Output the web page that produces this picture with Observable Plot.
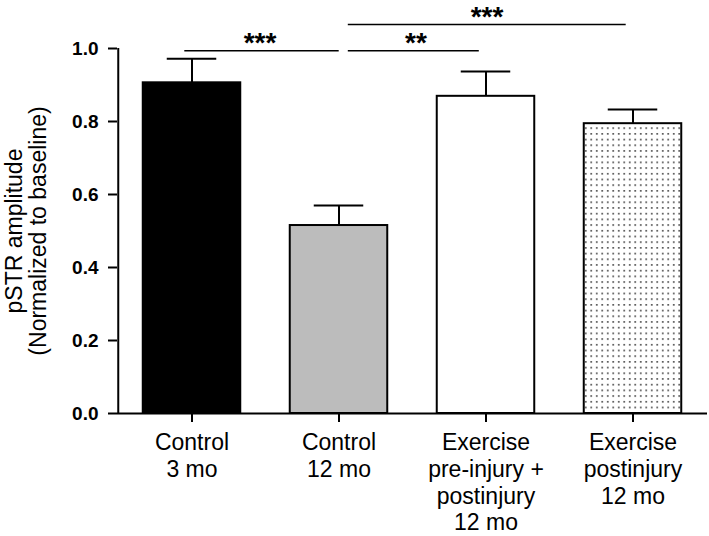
<!DOCTYPE html>
<html>
<head>
<meta charset="utf-8">
<script src="https://cdn.jsdelivr.net/npm/d3@7"></script>
<script src="https://cdn.jsdelivr.net/npm/@observablehq/plot@0.6"></script>
<style>
  html, body { margin: 0; padding: 0; background: white; }
  #chart svg { display: block; }
</style>
</head>
<body>
<div id="chart"></div>
<script>
// ---- data ----
const categories = [
  "Control\n3 mo",
  "Control\n12 mo",
  "Exercise\npre-injury +\npostinjury\n12 mo",
  "Exercise\npostinjury\n12 mo"
];
const means = [0.906, 0.515, 0.869, 0.794];
const sems = [0.066, 0.055, 0.068, 0.039];
const fills = ["black", "#bcbcbc", "white", "url(#dots)"];
const yTicks = [0, 0.2, 0.4, 0.6, 0.8, 1.0];
const yLabel = "pSTR amplitude\n(Normalized to baseline)";

// significance brackets
const sigFrom = [0, 1, 1];
const sigTo = [1, 2, 3];
const sigLevel = [0.994, 0.994, 1.066];
const sigText = ["***", "**", "***"];
const sigTextY = [0.990, 0.990, 1.0616];

const rows = categories.map((c, i) => ({cat: c, mean: means[i], sem: sems[i], fill: fills[i]}));

const W = 709, H = 536;
const mL = 117, mR = 2, mT = 48, mB = 123;
const step = (W - mL - mR) / categories.length;
const barInset = (step - 98) / 2;
const capInset = (step - 50) / 2;

const sigRow = (k) => [{x1: categories[sigFrom[k]], x2: categories[sigTo[k]], y: sigLevel[k]}];
const starRow = (k) => [{x: categories[sigTo[k]], y: sigTextY[k], t: sigText[k]}];
const fmt = d3.format(".1f");

const plot = Plot.plot({
  width: W,
  height: H,
  marginLeft: mL,
  marginRight: mR,
  marginTop: mT,
  marginBottom: mB,
  style: {fontFamily: "'Liberation Sans', Arial, sans-serif", color: "black", background: "white"},
  x: {domain: categories, padding: 0, label: null},
  y: {domain: [0, 1], label: null},
  color: {type: "identity"},
  marks: [
    Plot.barY(rows, {x: "cat", y: "mean", fill: "fill", stroke: "black", strokeWidth: 2,
      insetLeft: barInset, insetRight: barInset}),
    Plot.ruleX(rows, {x: "cat", y1: "mean", y2: d => d.mean + d.sem, stroke: "black", strokeWidth: 2}),
    Plot.tickY(rows, {x: "cat", y: d => d.mean + d.sem, stroke: "black", strokeWidth: 2,
      insetLeft: capInset, insetRight: capInset}),
    // axes
    Plot.ruleY([0], {stroke: "black", strokeWidth: 2}),
    Plot.ruleX([categories[0]], {x: d => d, y1: 0, y2: 1, dx: -step / 2, stroke: "black", strokeWidth: 2}),
    Plot.axisY({ticks: yTicks, tickFormat: () => "", tickSize: 9, strokeWidth: 2, label: null}),
    Plot.text(yTicks, {y: d => d, text: d => fmt(d), frameAnchor: "left", textAnchor: "end",
      dx: -19, fontSize: 19, fontWeight: "bold", fill: "black"}),
    Plot.axisX({tickSize: 9, tickFormat: () => "", strokeWidth: 2, label: null}),
    Plot.text(categories, {x: d => d, text: d => d, frameAnchor: "bottom", lineAnchor: "top",
      dy: 18, fontSize: 23, lineHeight: 1.16, fill: "black"}),
    Plot.text([yLabel], {frameAnchor: "left", text: d => d, rotate: -90, lineAnchor: "top",
      textAnchor: "middle", dx: -112, fontSize: 23, lineHeight: 1.03, fill: "black"}),
    // significance
    Plot.ruleY(sigRow(0), {x1: "x1", x2: "x2", y: "y", stroke: "black", strokeWidth: 1.5,
      insetLeft: (183.3 - mL), insetRight: (mL + 2 * step - 338.7)}),
    Plot.ruleY(sigRow(1), {x1: "x1", x2: "x2", y: "y", stroke: "black", strokeWidth: 1.5,
      insetLeft: (347.3 - mL - step), insetRight: (mL + 3 * step - 479.3)}),
    Plot.ruleY(sigRow(2), {x1: "x1", x2: "x2", y: "y", stroke: "black", strokeWidth: 1.5,
      insetLeft: (347.3 - mL - step), insetRight: (mL + 4 * step - 626.7)}),
    Plot.text(starRow(0), {x: "x", y: "y", text: "t", lineAnchor: "bottom", dx: -79, fontSize: 28, fontWeight: "bold", fill: "black"}),
    Plot.text(starRow(1), {x: "x", y: "y", text: "t", lineAnchor: "bottom", dx: -70, fontSize: 28, fontWeight: "bold", fill: "black"}),
    Plot.text(starRow(2), {x: "x", y: "y", text: "t", lineAnchor: "bottom", dx: -146, fontSize: 28, fontWeight: "bold", fill: "black"})
  ]
});

// dotted pattern
const svg = d3.select(plot);
const defs = svg.insert("defs", ":first-child");
const pat = defs.append("pattern")
  .attr("id", "dots")
  .attr("patternUnits", "userSpaceOnUse")
  .attr("width", 5.5)
  .attr("height", 5.7);
pat.append("rect").attr("width", 5.5).attr("height", 5.7).attr("fill", "white");
pat.append("rect").attr("x", 2).attr("y", 2).attr("width", 1.5).attr("height", 1.5).attr("fill", "#222");

document.getElementById("chart").appendChild(plot);
</script>
</body>
</html>
